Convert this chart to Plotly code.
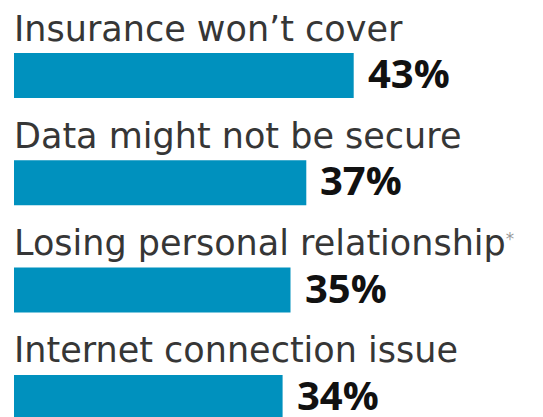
import plotly.graph_objects as go

categories = ["Insurance won’t cover", "Data might not be secure",
              "Losing personal relationship", "Internet connection issue"]
label_texts = ["Insurance won’t cover", "Data might not be secure",
               "Losing personal relationship<span style='font-size:24px;color:#999999'><sup>*</sup></span>",
               "Internet connection issue"]
values = [43, 37, 35, 34]
value_labels = ["43%", "37%", "35%", "34%"]

BAR_COLOR = "#0091BE"
# page body has an 8px default margin, so the figure is offset by 8px
OFF = 8
W, H = 543 - OFF, 417 - OFF
PX_PER_UNIT = 7.9
LEFT = 14 - OFF
PITCH = 107.3
FIRST_CENTER = 75.5 - OFF

fig = go.Figure()
fig.add_trace(go.Bar(
    x=values, y=categories, orientation="h",
    marker=dict(color=BAR_COLOR, line=dict(width=0)),
    width=45 / PITCH, hoverinfo="skip",
))

lo = -FIRST_CENTER / PITCH
hi = lo + H / PITCH

annotations = []
for cat, lab, v, vl in zip(categories, label_texts, values, value_labels):
    annotations.append(dict(
        x=0, y=cat, xref="x", yref="y", text=lab, showarrow=False,
        xanchor="left", yanchor="middle", xshift=-2, yshift=47,
        font=dict(family="DejaVu Sans", size=35, color="#363636"),
    ))
    annotations.append(dict(
        x=v, y=cat, xref="x", yref="y", text="<b>" + vl + "</b>", showarrow=False,
        xanchor="left", yanchor="middle", xshift=12, yshift=3,
        font=dict(family="Open Sans", size=40, color="#111111"),
    ))

fig.update_layout(
    width=W, height=H,
    margin=dict(l=LEFT, r=0, t=0, b=0),
    paper_bgcolor="white", plot_bgcolor="white",
    showlegend=False,
    xaxis=dict(range=[0, (W - LEFT) / PX_PER_UNIT], visible=False, fixedrange=True),
    yaxis=dict(range=[hi, lo], visible=False, fixedrange=True,
               categoryorder="array", categoryarray=categories),
    annotations=annotations,
)
fig.write_html("out.html")
